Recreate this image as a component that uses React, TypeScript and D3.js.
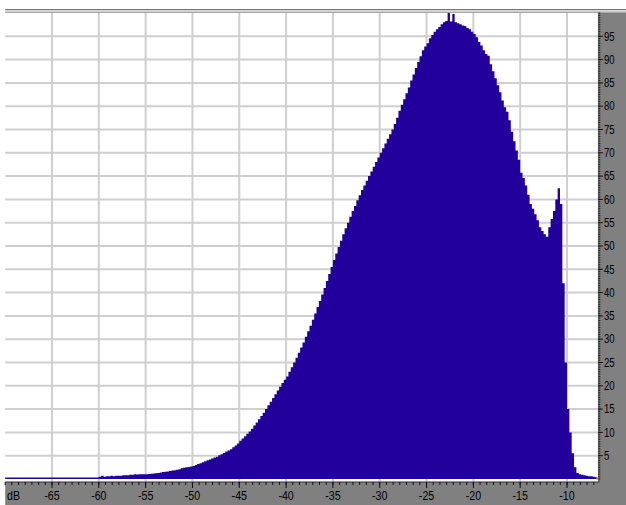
import React from "react";
import * as d3 from "d3";

// Histogram of levels (dB), bins of 0.25 dB starting at -70 dB
const binStart = -70;
const binWidth = 0.25;
const counts: number[] = [
  // -70 .. -61
  0.3, 0.3, 0.3, 0.3, 0.3, 0.3, 0.3, 0.3, 0.3, 0.3,
  0.3, 0.3, 0.3, 0.3, 0.3, 0.3, 0.3, 0.3, 0.3, 0.3,
  0.3, 0.3, 0.3, 0.3, 0.3, 0.3, 0.3, 0.3, 0.3, 0.3,
  0.3, 0.3, 0.3, 0.3, 0.3, 0.3, 0.3, 0.3, 0.3, 0.3,
  // -60 .. -56
  0.5, 0.7, 0.5, 0.6,
  0.6, 0.7, 0.6, 0.7,
  0.7, 0.7, 0.8, 0.8,
  0.8, 0.9, 0.9, 1.0,
  0.95, 1.0, 1.0, 1.0,
  // -55 .. -46
  1.0, 1.05, 1.1, 1.2,
  1.25, 1.3, 1.4, 1.5,
  1.55, 1.6, 1.7, 1.8,
  1.9, 2.0, 2.1, 2.3,
  2.4, 2.5, 2.6, 2.7,
  2.8, 3.0, 3.2, 3.4,
  3.6, 3.8, 4.0, 4.2,
  4.4, 4.6, 4.8, 5.1,
  5.3, 5.6, 5.9, 6.1,
  6.4, 6.8, 7.2, 7.6,
  // -45 .. -36
  8.2, 8.7, 9.2, 9.7,
  10.2, 10.8, 11.5, 12.1,
  12.8, 13.5, 14.2, 15.0,
  15.8, 16.6, 17.4, 18.2,
  19.0, 19.8, 20.6, 21.3,
  22.0, 23.0, 24.0, 25.0,
  26.0, 27.1, 28.2, 29.3,
  30.5, 31.7, 32.9, 34.2,
  35.5, 36.9, 38.2, 39.6,
  41.0, 42.5, 44.0, 45.5,
  // -35 .. -26
  47.0, 48.4, 49.8, 51.1,
  52.5, 53.8, 55.0, 56.3,
  57.5, 58.6, 59.8, 60.9,
  62.0, 63.0, 64.0, 65.0,
  66.0, 67.0, 68.0, 69.0,
  70.0, 71.0, 72.0, 73.0,
  74.0, 75.0, 76.2, 77.5,
  79.0, 80.3, 81.5, 82.8,
  84.0, 85.5, 86.8, 88.2,
  89.5, 90.7, 92.0, 92.8,
  // -25 .. -16
  93.5, 94.6, 95.3, 96.0,
  96.5, 97.0, 97.6, 98.0,
  98.3, 100.0, 98.2, 99.8,
  98.0, 97.8, 97.6, 97.3,
  97.2, 96.8, 96.5, 96.0,
  95.5, 94.8, 93.8, 93.0,
  92.0, 91.2, 90.8, 89.0,
  87.5, 86.0, 84.5, 83.0,
  81.2, 79.8, 78.8, 77.0,
  74.5, 72.5, 70.5, 68.5,
  // -15 .. -7
  65.7, 64.6, 63.0, 61.0,
  59.0, 58.0, 56.8, 55.5,
  54.0, 53.2, 52.5, 52.0,
  54.0, 55.8, 57.5, 60.0,
  62.4, 59.0, 42.0, 25.0,
  15.0, 10.0, 5.5, 2.5,
  1.3, 1.0, 0.9, 0.8,
  0.7, 0.6, 0.6, 0.5,
  0.4,
];

const xTicks = [-65, -60, -55, -50, -45, -40, -35, -30, -25, -20, -15, -10];
const yTicks = [5, 10, 15, 20, 25, 30, 35, 40, 45, 50, 55, 60, 65, 70, 75, 80, 85, 90, 95];
const xUnit = "dB";

const W = 626;
const H = 505;
const BLUE = "#22009c";
const GRID = "#cfcfcf";
const PANEL = "#808080";

export default function App() {
  const x = d3.scaleLinear().domain([-65, -10]).range([52, 567]);
  const y = d3.scaleLinear().domain([0, 100]).range([479, 13]);
  const left = x(-70);
  const right = x(-6.7);
  const plotTop = y(100);
  const bandTop = 482;

  const pts: [number, number][] = counts.map((c, i) => [binStart + i * binWidth, c]);
  pts.push([binStart + counts.length * binWidth, counts[counts.length - 1]]);
  const area = d3
    .area<[number, number]>()
    .x((d) => x(d[0]))
    .y0(y(0))
    .y1((d) => y(d[1]))
    .curve(d3.curveStepAfter);

  // minor ticks on bottom axis
  const minorX: number[] = [];
  for (let v = -70; v <= -6.7; v += 5 / 7) minorX.push(v);
  const minorY: number[] = [];
  for (let v = 0; v <= 100; v += 0.5) minorY.push(v);

  const font = "'Liberation Sans', Arial, sans-serif";

  return (
    <svg
      width={W}
      height={H}
      style={{ position: "absolute", left: 0, top: 0, background: "#fff" }}
    >
      <rect x={0} y={0} width={W} height={H} fill="#fff" />
      {/* top frame */}
      <rect x={left} y={9} width={W - left} height={1.2} fill="#787878" />
      <rect x={left} y={10.2} width={W - left} height={1.8} fill="#d0d0d0" />
      <rect x={left} y={12} width={W - left} height={1} fill="#a8a8a8" />

      {/* grid */}
      {xTicks.map((t) => (
        <line key={"gx" + t} x1={x(t)} x2={x(t)} y1={plotTop} y2={bandTop} stroke={GRID} strokeWidth={2} />
      ))}
      {yTicks.map((t) => (
        <line key={"gy" + t} x1={left} x2={right} y1={y(t)} y2={y(t)} stroke={GRID} strokeWidth={2} />
      ))}

      {/* histogram */}
      <path d={area(pts) || ""} fill={BLUE} />

      {/* right panel */}
      <rect x={right} y={plotTop} width={W - right} height={H - plotTop} fill={PANEL} />
      {/* bottom band */}
      <rect x={left} y={bandTop} width={W - left} height={H - bandTop} fill={PANEL} />
      <line x1={left} x2={right + 1} y1={bandTop} y2={bandTop} stroke="#303030" strokeWidth={1} />
      <line x1={right + 1} x2={right + 1} y1={plotTop} y2={bandTop} stroke="#303030" strokeWidth={0.6} />
      <rect x={right - 1.5} y={y(0) - 1.5} width={2} height={2} fill="#c08040" />

      {/* bottom axis ticks */}
      {minorX.map((v, i) => (
        <line key={"mx" + i} x1={x(v)} x2={x(v)} y1={bandTop} y2={bandTop + 3} stroke="#111" strokeWidth={1} />
      ))}
      {xTicks.map((t) => (
        <line key={"tx" + t} x1={x(t)} x2={x(t)} y1={bandTop} y2={bandTop + 6} stroke="#111" strokeWidth={1} />
      ))}
      {xTicks.map((t) => (
        <text
          key={"lx" + t}
          transform={`translate(${x(t)},${500}) scale(0.82,1)`}
          textAnchor="middle"
          fontFamily={font}
          fontSize={13}
          fill="#000"
        >
          {t}
        </text>
      ))}
      <text transform={`translate(${7},${500}) scale(0.82,1)`} fontFamily={font} fontSize={13} fill="#000">
        {xUnit}
      </text>

      {/* right axis ticks */}
      {minorY.map((v, i) => (
        <line key={"my" + i} x1={right + 0.5} x2={right + 2.5} y1={y(v)} y2={y(v)} stroke="#111" strokeWidth={0.8} />
      ))}
      {yTicks.map((t) => (
        <line key={"ty" + t} x1={right + 0.5} x2={right + 5} y1={y(t)} y2={y(t)} stroke="#111" strokeWidth={1} />
      ))}
      {yTicks.map((t) => (
        <text
          key={"ly" + t}
          transform={`translate(${right + 6},${y(t) + 4.2}) scale(0.8,1)`}
          fontFamily={font}
          fontSize={12}
          fill="#000"
        >
          {t}
        </text>
      ))}
    </svg>
  );
}
